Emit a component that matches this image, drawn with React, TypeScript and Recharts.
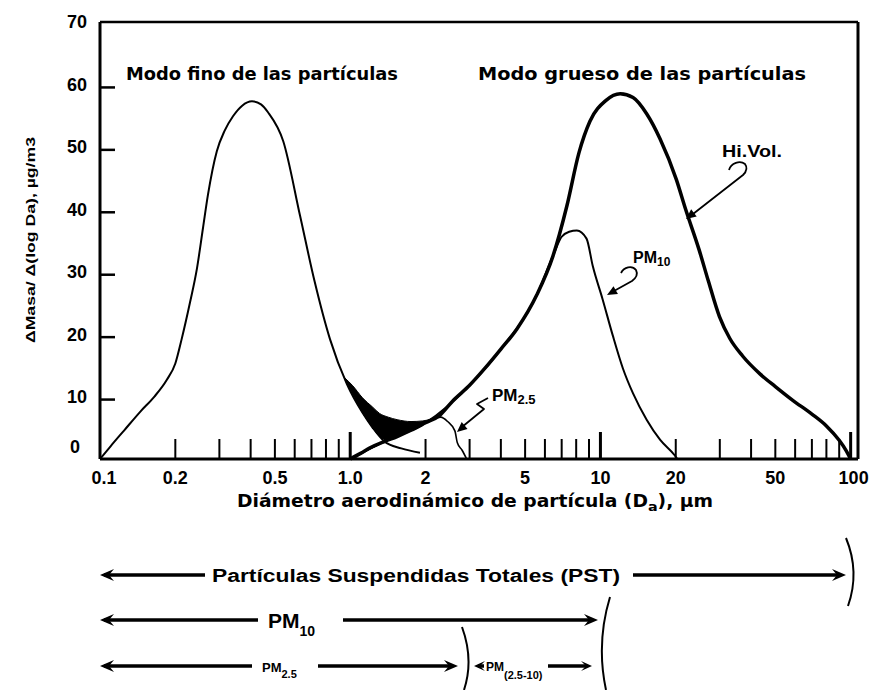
import React from 'react';
import { ComposedChart, Line, Area, XAxis, YAxis } from 'recharts';

// modo fino (0.1 - 1.9 µm)
const fineMode = [
  { x: 0.1, y: 0 },
  { x: 0.11, y: 2.0 },
  { x: 0.125, y: 4.6 },
  { x: 0.145, y: 7.6 },
  { x: 0.165, y: 10 },
  { x: 0.185, y: 12.7 },
  { x: 0.2, y: 15.3 },
  { x: 0.212, y: 19.2 },
  { x: 0.229, y: 25.1 },
  { x: 0.244, y: 30.5 },
  { x: 0.258, y: 37 },
  { x: 0.27, y: 42.3 },
  { x: 0.293, y: 49.3 },
  { x: 0.315, y: 52.6 },
  { x: 0.34, y: 54.9 },
  { x: 0.37, y: 56.6 },
  { x: 0.405, y: 57.3 },
  { x: 0.44, y: 56.8 },
  { x: 0.47, y: 55.5 },
  { x: 0.54, y: 50.9 },
  { x: 0.63, y: 39 },
  { x: 0.72, y: 28.5 },
  { x: 0.83, y: 19.2 },
  { x: 0.97, y: 12 },
  { x: 1.12, y: 7.4 },
  { x: 1.23, y: 5 },
  { x: 1.37, y: 2.8 },
  { x: 1.6, y: 1.7 },
  { x: 1.9, y: 1.0 },
];

// Hi.Vol. (modo grueso completo)
const hiVol = [
  { x: 1.0, y: 0 },
  { x: 1.1, y: 0.9 },
  { x: 1.2, y: 1.8 },
  { x: 1.37, y: 2.8 },
  { x: 1.54, y: 3.6 },
  { x: 1.75, y: 4.6 },
  { x: 2.0, y: 5.8 },
  { x: 2.28, y: 7.0 },
  { x: 2.57, y: 9.3 },
  { x: 3.0, y: 11.8 },
  { x: 3.45, y: 14.5 },
  { x: 4.0, y: 17.6 },
  { x: 4.63, y: 20.8 },
  { x: 5.57, y: 26.3 },
  { x: 6.46, y: 32.5 },
  { x: 7.35, y: 40.6 },
  { x: 8.2, y: 49 },
  { x: 9.08, y: 54.1 },
  { x: 10.5, y: 57.4 },
  { x: 12.0, y: 58.5 },
  { x: 13.5, y: 57.9 },
  { x: 15.3, y: 55.3 },
  { x: 17.3, y: 51.3 },
  { x: 20.1, y: 44.8 },
  { x: 21.9, y: 40 },
  { x: 24.8, y: 33.5 },
  { x: 27, y: 28.5 },
  { x: 29.9, y: 22.8 },
  { x: 32.9, y: 19.3 },
  { x: 37, y: 16.5 },
  { x: 43.5, y: 13.6 },
  { x: 50, y: 11.6 },
  { x: 58.7, y: 9.4 },
  { x: 70, y: 7.2 },
  { x: 80, y: 5.3 },
  { x: 90, y: 3.0 },
  { x: 95.8, y: 1.4 },
  { x: 100, y: 0 },
];

// PM10
const pm10 = [
  { x: 1.0, y: 0 },
  { x: 1.37, y: 2.8 },
  { x: 2.0, y: 5.8 },
  { x: 3.0, y: 11.8 },
  { x: 4.0, y: 17.6 },
  { x: 5.57, y: 26.3 },
  { x: 6.5, y: 32.8 },
  { x: 7.0, y: 35.6 },
  { x: 7.5, y: 36.4 },
  { x: 8.05, y: 36.6 },
  { x: 8.8, y: 35.3 },
  { x: 9.32, y: 30.9 },
  { x: 10.2, y: 25.6 },
  { x: 11.2, y: 19.8 },
  { x: 12.3, y: 14.5 },
  { x: 13.5, y: 10.5 },
  { x: 15.3, y: 6.3 },
  { x: 17.3, y: 3.1 },
  { x: 19.8, y: 0.6 },
  { x: 20.3, y: 0 },
];

// PM2.5
const pm25 = [
  { x: 1.0, y: 0 },
  { x: 1.37, y: 2.8 },
  { x: 1.75, y: 4.6 },
  { x: 2.1, y: 6.3 },
  { x: 2.3, y: 6.7 },
  { x: 2.45, y: 6.0 },
  { x: 2.62, y: 4.5 },
  { x: 2.68, y: 2.6 },
  { x: 2.8, y: 1.4 },
  { x: 2.92, y: 0 },
];

// zona de traslape (relleno negro)
const overlap = [
  { x: 0.95, lo: 12.8, hi: 13.0 },
  { x: 1.02, lo: 10.4, hi: 11.8 },
  { x: 1.12, lo: 7.4, hi: 9.8 },
  { x: 1.23, lo: 5.0, hi: 8.3 },
  { x: 1.31, lo: 3.6, hi: 7.3 },
  { x: 1.42, lo: 3.0, hi: 6.7 },
  { x: 1.54, lo: 3.6, hi: 6.3 },
  { x: 1.75, lo: 4.6, hi: 6.0 },
  { x: 1.95, lo: 5.6, hi: 6.1 },
  { x: 2.1, lo: 6.3, hi: 6.4 },
];

const xTicks = [
  0.1, 0.2, 0.3, 0.4, 0.5, 0.6, 0.7, 0.8, 0.9,
  1, 2, 3, 4, 5, 6, 7, 8, 9,
  10, 20, 30, 40, 50, 60, 70, 80, 90, 100,
];
const xTickLabels: Record<string, string> = {
  '0.1': '0.1', '0.2': '0.2', '0.5': '0.5', '1': '1.0', '2': '2',
  '5': '5', '10': '10', '20': '20', '50': '50', '100': '100',
};
const yTicks = [0, 10, 20, 30, 40, 50, 60, 70];

const NUM_FONT = '"Liberation Sans", Arial, sans-serif';
const TXT_FONT = '"DejaVu Sans", Verdana, sans-serif';

const XTick = (props: any) => {
  const { x, y, payload } = props;
  const v = payload.value;
  const major = v === 1 || v === 10 || v === 100;
  const label = xTickLabels[String(v)];
  return (
    <g>
      {v !== 0.1 && (
        <line x1={x} x2={x} y1={y} y2={y - (major ? 27 : 20)} stroke="#000" strokeWidth={major ? 3 : 2} />
      )}
      {label && (
        <text
          x={x + (v === 0.1 ? 4 : v === 100 ? 3 : 0)}
          y={y + 25}
          textAnchor="middle"
          fontFamily={NUM_FONT}
          fontWeight={700}
          fontSize={18}
          fill="#000"
        >
          {label}
        </text>
      )}
    </g>
  );
};

const YTickLeft = (props: any) => {
  const { x, y, payload } = props;
  const v = payload.value;
  return (
    <g>
      {v > 0 && v < 70 && <line x1={x} x2={x + 15} y1={y + 3} y2={y + 3} stroke="#000" strokeWidth={2.5} />}
      <text
        x={v === 0 ? x - 20 : x - 13}
        y={v === 0 ? y - 12 : y}
        dy="0.36em"
        textAnchor="end"
        fontFamily={NUM_FONT}
        fontWeight={700}
        fontSize={18}
        fill="#000"
      >
        {v}
      </text>
    </g>
  );
};

const YTickRight = (props: any) => {
  const { x, y, payload } = props;
  const v = payload.value;
  if (v <= 0 || v >= 70) return <g />;
  return <line x1={x - 12} x2={x} y1={y} y2={y} stroke="#000" strokeWidth={2.5} />;
};

const head = (x: number, y: number, dir: number, len = 14, hw = 6) =>
  `${x},${y} ${x - dir * len},${y - hw} ${x - dir * (len - 5)},${y} ${x - dir * len},${y + hw}`;

const tipHead = (tx: number, ty: number, fx: number, fy: number, len = 10, hw = 4.5) => {
  const dx = tx - fx;
  const dy = ty - fy;
  const d = Math.hypot(dx, dy);
  const ux = dx / d;
  const uy = dy / d;
  const bx = tx - ux * len;
  const by = ty - uy * len;
  return `${tx},${ty} ${bx - uy * hw},${by + ux * hw} ${bx + uy * hw},${by - ux * hw}`;
};

const Annotations = () => (
  <svg
    width={869}
    height={690}
    style={{ position: 'absolute', left: 0, top: 0, pointerEvents: 'none' }}
  >
    <g fontFamily={TXT_FONT} fontWeight={700} fill="#000">
      <text x={126} y={80} fontSize={18} textLength={272} lengthAdjust="spacingAndGlyphs">
        Modo fino de las partículas
      </text>
      <text x={478} y={80} fontSize={18} textLength={328} lengthAdjust="spacingAndGlyphs">
        Modo grueso de las partículas
      </text>
      <text
        x={30}
        y={240}
        fontSize={13}
        textAnchor="middle"
        dominantBaseline="central"
        transform="rotate(-90 30 240)"
        textLength={206}
        lengthAdjust="spacingAndGlyphs"
        fontFamily={NUM_FONT}
      >
        ΔMasa/ Δ(log Da), µg/m3
      </text>
      <text x={237} y={507} fontSize={17} textLength={476} lengthAdjust="spacingAndGlyphs">
        Diámetro aerodinámico de partícula (D
        <tspan fontSize={13} dy={4}>a</tspan>
        <tspan dy={-4}>), µm</tspan>
      </text>
    </g>

    {/* etiquetas de curvas */}
    <g fontFamily={NUM_FONT} fontWeight={700} fill="#000">
      <text x={722} y={157} fontSize={16} textLength={60} lengthAdjust="spacingAndGlyphs">Hi.Vol.</text>
      <text x={633} y={263} fontSize={16}>
        PM<tspan fontSize={12} dy={3}>10</tspan>
      </text>
      <text x={492} y={401} fontSize={17}>
        PM<tspan fontSize={13} dy={3}>2.5</tspan>
      </text>
    </g>
    <g fill="none" stroke="#000" strokeWidth={1.8} strokeLinejoin="round">
      <path d="M 729 170 C 731 163, 740 160, 745 164 C 748 168, 746 172, 743 175 L 693 214" />
      <path d="M 621 273 C 624 267, 632 265, 636 270 C 638 274, 636 278, 632 281 L 614 291" />
      <path d="M 488 398 L 477 404 L 484 409 L 462 427" />
    </g>
    <g fill="#000">
      <polygon points={tipHead(686, 219, 743, 175)} />
      <polygon points={tipHead(607, 295, 632, 281)} />
      <polygon points={tipHead(457, 432, 484, 409)} />
    </g>

    {/* rangos de tamaño */}
    <g stroke="#000" strokeWidth={3.5}>
      <line x1={104} y1={575} x2={205} y2={575} />
      <line x1={633} y1={575} x2={840} y2={575} />
      <line x1={104} y1={620} x2={258} y2={620} />
      <line x1={343} y1={620} x2={592} y2={620} />
      <line x1={104} y1={666} x2={252} y2={666} />
      <line x1={318} y1={666} x2={452} y2={666} />
      <line x1={478} y1={666} x2={484} y2={666} />
      <line x1={548} y1={666} x2={586} y2={666} />
    </g>
    <g fill="#000">
      <polygon points={head(100, 575, -1)} />
      <polygon points={head(846, 575, 1)} />
      <polygon points={head(100, 620, -1)} />
      <polygon points={head(598, 620, 1)} />
      <polygon points={head(100, 666, -1)} />
      <polygon points={head(458, 666, 1)} />
      <polygon points={head(474, 666, -1, 11, 5)} />
      <polygon points={head(592, 666, 1, 11, 5)} />
    </g>
    <g fill="none" stroke="#000" strokeWidth={2}>
      <path d="M 846 538 Q 860 572 848 606" />
      <path d="M 610 597 Q 596 643 606 690" />
      <path d="M 462 627 Q 474 660 464 690" />
    </g>
    <g fontFamily={NUM_FONT} fontWeight={700} fill="#000">
      <text x={212} y={582} fontSize={18} textLength={408} lengthAdjust="spacingAndGlyphs">
        Partículas Suspendidas Totales (PST)
      </text>
      <text x={268} y={628} fontSize={21}>
        PM<tspan fontSize={14} dy={8}>10</tspan>
      </text>
      <text x={262} y={672} fontSize={13}>
        PM<tspan fontSize={11} dy={6}>2.5</tspan>
      </text>
      <text x={486} y={671} fontSize={12}>
        PM<tspan fontSize={11} dy={8}>(2.5-10)</tspan>
      </text>
    </g>
  </svg>
);

export default function App() {
  return (
    <div style={{ position: 'absolute', left: 0, top: 0, width: 869, height: 690, background: '#fff' }}>
      <ComposedChart width={869} height={690} margin={{ top: 21, right: 10, bottom: 230, left: 99 }}>
        <XAxis
          xAxisId="b"
          dataKey="x"
          type="number"
          scale="log"
          domain={[0.1, 107]}
          allowDataOverflow
          ticks={xTicks}
          interval={0}
          tickSize={0}
          tickMargin={0}
          tickLine={false}
          tick={<XTick />}
          axisLine={{ stroke: '#000', strokeWidth: 3 }}
          height={1}
        />
        <XAxis
          xAxisId="t"
          dataKey="x"
          orientation="top"
          type="number"
          scale="log"
          domain={[0.1, 107]}
          allowDataOverflow
          tick={false}
          tickLine={false}
          axisLine={{ stroke: '#000', strokeWidth: 2.5 }}
          height={1}
        />
        <YAxis
          yAxisId="l"
          type="number"
          domain={[0, 70]}
          ticks={yTicks}
          interval={0}
          tickSize={0}
          tickMargin={0}
          tickLine={false}
          tick={<YTickLeft />}
          axisLine={{ stroke: '#000', strokeWidth: 3 }}
          width={1}
        />
        <YAxis
          yAxisId="r"
          orientation="right"
          type="number"
          domain={[0, 70]}
          ticks={yTicks}
          interval={0}
          tickSize={0}
          tickMargin={0}
          tickLine={false}
          tick={<YTickRight />}
          axisLine={{ stroke: '#000', strokeWidth: 3 }}
          width={1}
        />
        <Area
          xAxisId="b"
          yAxisId="l"
          data={overlap}
          dataKey={(d: any) => [d.lo, d.hi]}
          type="monotone"
          stroke="#000"
          strokeWidth={1}
          fill="#000"
          fillOpacity={1}
          isAnimationActive={false}
        />
        <Line xAxisId="b" yAxisId="l" data={fineMode} dataKey="y" type="monotone" stroke="#000" strokeWidth={2} dot={false} isAnimationActive={false} />
        <Line xAxisId="b" yAxisId="l" data={pm25} dataKey="y" type="monotone" stroke="#000" strokeWidth={1.6} dot={false} isAnimationActive={false} />
        <Line xAxisId="b" yAxisId="l" data={pm10} dataKey="y" type="monotone" stroke="#000" strokeWidth={2} dot={false} isAnimationActive={false} />
        <Line xAxisId="b" yAxisId="l" data={hiVol} dataKey="y" type="monotone" stroke="#000" strokeWidth={3.5} dot={false} isAnimationActive={false} />
      </ComposedChart>
      <Annotations />
    </div>
  );
}
